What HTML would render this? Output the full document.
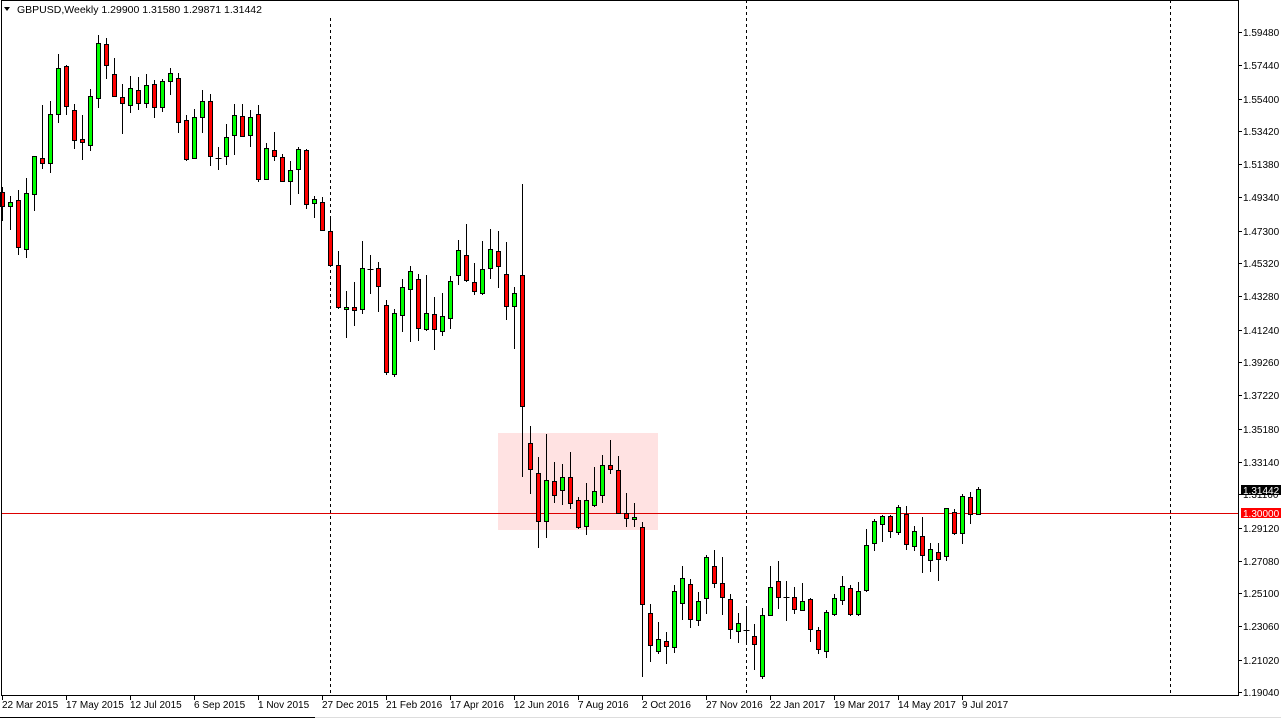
<!DOCTYPE html>
<html><head><meta charset="utf-8"><style>
html,body{margin:0;padding:0;background:#fff;}
svg{display:block;font-family:"Liberation Sans",sans-serif;}
</style></head><body>
<svg id="c" width="1281" height="719" xmlns="http://www.w3.org/2000/svg">
<rect x="0" y="0" width="1281" height="719" fill="#fff"/>
<rect x="498" y="433" width="160" height="97" fill="#ffe2e2"/>
<g stroke="#000" stroke-width="1" stroke-dasharray="3,3">
<line x1="330.5" y1="18" x2="330.5" y2="695"/>
<line x1="746.5" y1="0" x2="746.5" y2="695"/>
<line x1="1170.5" y1="0" x2="1170.5" y2="695"/>
</g>
<line x1="1" y1="513.5" x2="1238" y2="513.5" stroke="#d00" stroke-width="1"/>
<g id="candles"></g>
<rect x="1.5" y="0.5" width="1237" height="695" fill="none" stroke="#000" stroke-width="1"/>
<g id="axis" font-size="10" fill="#000"></g>
<text x="17" y="13" font-size="10.5" fill="#000">GBPUSD,Weekly  1.29900 1.31580 1.29871 1.31442</text>
<polygon points="4,7 10,7 7,11" fill="#000"/>
<rect x="1241" y="485" width="40" height="10" fill="#000"/>
<text x="1243" y="494" font-size="10" fill="#fff">1.31442</text>
<rect x="1241" y="508" width="40" height="10" fill="#f00"/>
<text x="1243" y="517" font-size="10" fill="#fff">1.30000</text>
<line x1="0" y1="717.5" x2="315" y2="717.5" stroke="#000"/>
<line x1="315" y1="717.5" x2="1281" y2="717.5" stroke="#ddd"/>
</svg>
<script>
var d=[
[0,192,206,187,221],[1,202,206,196,230],[0,200,247,190,255],[1,193,249,178,258],[1,156,194,156,211],
[0,158,163,105,169],[1,114,163,101,173],[1,68,114,54,123],[0,66,106,65,115],[0,110,140,104,149],
[0,139,142,115,160],[1,96,145,89,151],[1,43,98,35,108],[0,44,65,38,79],[0,74,96,58,96],
[0,97,103,84,134],[1,88,105,76,113],[0,90,103,77,110],[1,85,103,74,108],[0,84,107,80,118],
[1,81,107,79,112],[1,73,81,68,95],[0,78,122,73,133],[0,120,159,115,161],[1,117,158,109,159],
[1,101,117,90,133],[0,101,156,94,166],[2,158,158,147,170],[1,137,156,124,165],[1,115,135,104,155],
[0,116,136,104,137],[1,117,135,110,147],[0,114,179,105,182],[1,148,179,143,180],[0,150,156,132,161],
[0,157,181,154,182],[1,170,181,161,205],[1,149,169,147,194],[0,150,204,149,209],[1,199,203,196,218],
[0,202,230,197,230],[0,231,265,217,265],[0,265,307,251,309],[1,307,309,291,338],[0,307,310,282,326],
[1,268,309,241,314],[2,269,269,255,294],[0,268,286,262,312],[0,305,372,300,375],[1,313,374,309,377],
[1,287,315,279,332],[1,271,289,266,342],[0,279,328,274,341],[1,313,329,275,331],[0,314,329,297,350],
[1,316,331,293,336],[1,281,318,276,329],[1,250,275,240,285],[0,255,280,224,282],[0,282,291,263,295],
[1,269,293,241,295],[1,249,268,229,279],[0,251,266,231,288],[0,274,306,242,320],[1,293,306,287,349],
[0,275,406,184,477],[0,443,469,426,494],[0,473,521,457,548],[1,480,521,434,538],[0,481,495,462,503],
[1,477,490,464,505],[0,477,503,452,509],[0,500,527,497,529],[1,500,526,483,535],[1,491,505,467,507],
[1,465,495,455,503],[0,465,469,440,474],[0,470,513,456,513],[0,513,518,493,527],[1,517,519,503,527],
[0,527,604,522,677],[0,613,645,604,662],[1,639,651,622,654],[0,641,646,632,664],[1,591,647,585,653],
[1,578,603,566,620],[0,584,619,579,628],[1,601,620,592,626],[1,557,598,555,614],[0,566,583,550,588],
[0,583,597,557,615],[0,599,629,594,639],[1,623,631,613,643],[2,630,630,606,645],[0,636,644,624,670],
[1,615,676,608,679],[1,587,615,566,616],[0,581,597,561,609],[2,597,597,581,621],[0,597,609,587,614],
[1,601,610,583,611],[0,599,629,598,642],[0,630,649,627,654],[1,612,651,610,658],[1,598,614,594,616],
[1,586,600,576,605],[0,588,614,585,616],[1,591,614,582,616],[1,545,590,529,592],[1,521,543,519,551],
[1,516,524,515,542],[0,516,531,515,538],[1,507,532,505,535],[0,514,544,506,550],[1,531,546,526,551],
[0,536,555,517,573],[1,549,560,543,572],[0,552,559,543,581],[1,508,556,508,561],[0,512,533,509,535],
[1,496,533,494,544],[0,497,514,492,524],[1,489,514,487,515]];
var s='';
for(var k=0;k<d.length;k++){var c=d[k],x=2.5+8*k;
s+='<line x1="'+x+'" y1="'+c[3]+'" x2="'+x+'" y2="'+c[4]+'" stroke="#000"/>';
if(c[0]==2){s+='<line x1="'+(x-3)+'" y1="'+(c[1]+0.5)+'" x2="'+(x+3)+'" y2="'+(c[1]+0.5)+'" stroke="#000"/>';}
else{var h=Math.max(c[2]-c[1],2);s+='<rect x="'+(x-2)+'" y="'+(c[1]+0.5)+'" width="4" height="'+h+'" fill="'+(c[0]?'#00ff00':'#ff0000')+'" stroke="#000"/>';}}
document.getElementById('candles').innerHTML=s;
var a='',p=[1.59480,1.57440,1.55400,1.53420,1.51380,1.49340,1.47300,1.45320,1.43280,1.41240,1.39260,1.37220,1.35180,1.33140,1.31160,1.29120,1.27080,1.25100,1.23060,1.21020,1.19040];
for(var i=0;i<p.length;i++){var y=Math.round(32+(1.5948-p[i])*1632.1)+0.5;
a+='<line x1="1239" y1="'+y+'" x2="1242" y2="'+y+'" stroke="#000"/><text x="1243" y="'+(y+3.5)+'">'+p[i].toFixed(5)+'</text>';}
var dt=['22 Mar 2015','17 May 2015','12 Jul 2015','6 Sep 2015','1 Nov 2015','27 Dec 2015','21 Feb 2016','17 Apr 2016','12 Jun 2016','7 Aug 2016','2 Oct 2016','27 Nov 2016','22 Jan 2017','19 Mar 2017','14 May 2017','9 Jul 2017'];
for(var j=0;j<dt.length;j++){var x=2.5+64*j;
a+='<line x1="'+x+'" y1="695" x2="'+x+'" y2="700" stroke="#000"/><text x="'+(x-0.5)+'" y="708">'+dt[j]+'</text>';}
document.getElementById('axis').innerHTML=a;
</script>
</body></html>
